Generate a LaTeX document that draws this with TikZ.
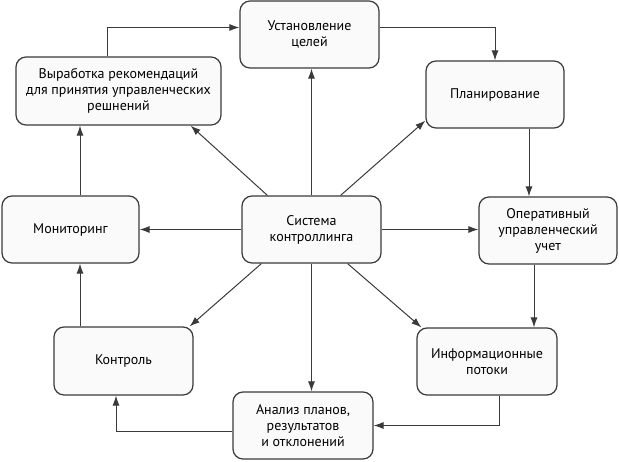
\documentclass[tikz,border=0pt]{standalone}
\usepackage{fontspec}
\setmainfont{PT Sans}
\usetikzlibrary{arrows.meta}
\definecolor{edge}{HTML}{3A3A3A}
\definecolor{boxfill}{HTML}{FAFAFA}
\begin{document}
\begin{tikzpicture}[x=1pt,y=-1pt,
  box/.style={draw=edge,fill=boxfill,line width=1.2pt,rounded corners=10pt,
    align=center,inner sep=0pt,font=\fontsize{14}{16}\selectfont},
  link/.style={draw=edge,line width=1pt,-{Latex[length=10pt,width=7pt]}}]
\useasboundingbox (0,0) rectangle (619,461);
% boxes
\node[box,minimum width=139pt,minimum height=67pt] (goals) at (309.5,34.5) {Установление\\целей};
\node[box,minimum width=138pt,minimum height=67pt] (plan) at (495,94.5) {Планирование};
\node[box,minimum width=205pt,minimum height=68pt] (rec) at (118.5,91) {Выработка рекомендаций\\для принятия управленческих\\решнений};
\node[box,minimum width=139pt,minimum height=67pt] (sys) at (311.5,229.5) {Система\\контроллинга};
\node[box,minimum width=137pt,minimum height=67pt] (mon) at (70.5,229.5) {Мониторинг};
\node[box,minimum width=138pt,minimum height=67pt] (acc) at (548,230.5) {Оперативный\\управленческий\\учет};
\node[box,minimum width=139pt,minimum height=68pt] (ctrl) at (123.5,361) {Контроль};
\node[box,minimum width=140pt,minimum height=67pt] (info) at (487,361.5) {Информационные\\потоки};
\node[box,minimum width=140pt,minimum height=67pt] (anal) at (303,425.5) {Анализ планов,\\результатов\\и отклонений};
% outer cycle
\draw[link] ([xshift=-11.5pt]rec.north) |- ([yshift=7pt]goals.west);
\draw[link] ([yshift=7pt]goals.east) -| (plan.north);
\draw[link] ([xshift=34pt]plan.south) -- ([xshift=34pt]plan.south |- acc.north);
\draw[link] ([xshift=-14pt]acc.south) -- ([xshift=-14pt]acc.south |- info.north);
\draw[link] ([xshift=12pt]info.south) |- (anal.east);
\draw[link] ([yshift=-5.5pt]anal.west) -| ([xshift=-7.5pt]ctrl.south);
\draw[link] ([xshift=9.5pt]mon.south |- ctrl.north) -- ([xshift=9.5pt]mon.south);
\draw[link] ([xshift=9.5pt]mon.north) -- ([xshift=9.5pt]mon.north |- rec.south);
% from the centre
\draw[link] (sys.north) -- (sys.north |- goals.south);
\draw[link] (sys.south) -- (sys.south |- anal.north);
\draw[link] (sys.west) -- (mon.east);
\draw[link] (sys.east) -- (sys.east -| acc.west);
\draw[link] ([xshift=26pt]sys.north west) -- ([xshift=-31pt]rec.south east);
\draw[link] ([xshift=-41pt]sys.north east) -- ([yshift=8pt]plan.south west);
\draw[link] ([xshift=20pt]sys.south west) -- ([xshift=-4pt]ctrl.north east);
\draw[link] ([xshift=-34pt]sys.south east) -- ([xshift=5pt]info.north west);
\end{tikzpicture}
\end{document}
